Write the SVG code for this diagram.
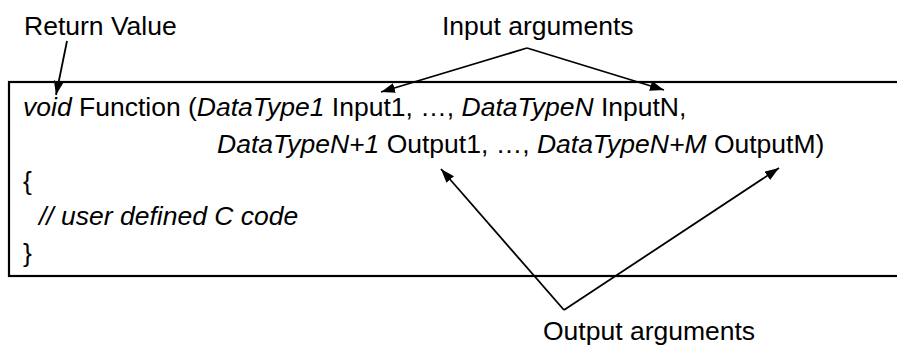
<svg xmlns="http://www.w3.org/2000/svg" width="897" height="347" viewBox="0 0 897 347">
<style>
text{font-family:"Liberation Sans",Arial,sans-serif;font-size:26.5px;fill:#000}
.i{font-style:italic}
.c{stroke:#000;stroke-width:1.8;fill:none}
</style>
<defs>
<marker id="ah" viewBox="0 0 14 10" refX="14" refY="5" markerWidth="14" markerHeight="10" markerUnits="userSpaceOnUse" orient="auto">
<path d="M0,0 L14,5 L0,10 Z" fill="#000"/>
</marker>
</defs>
<rect width="897" height="347" fill="#fff"/>
<g id="box">
<rect x="9" y="82" width="900" height="194" fill="none" stroke="#000" stroke-width="2.2"/>
<text x="23" y="116"><tspan class="i">void</tspan> Function (<tspan class="i">DataType1</tspan> Input1, …, <tspan class="i">DataTypeN</tspan> InputN,</text>
<text x="217" y="153"><tspan class="i">DataTypeN+1</tspan> Output1, …, <tspan class="i">DataTypeN+M</tspan> OutputM)</text>
<text x="23" y="190">{</text>
<text x="39" y="224.5" class="i">// user defined C code</text>
<text x="23" y="262">}</text>
</g>
<g id="label-return"><text x="24" y="35">Return Value</text></g>
<g id="label-input"><text x="442" y="35">Input arguments</text></g>
<g id="label-output"><text x="543" y="340">Output arguments</text></g>
<g id="connectors">
<path class="c" d="M67,41 L56,95" marker-end="url(#ah)"/>
<path class="c" d="M527,48 L381,92" marker-end="url(#ah)"/>
<path class="c" d="M527,48 L664,90" marker-end="url(#ah)"/>
<path class="c" d="M564,310 L441,169" marker-end="url(#ah)"/>
<path class="c" d="M564,310 L779,168" marker-end="url(#ah)"/>
</g>
</svg>
